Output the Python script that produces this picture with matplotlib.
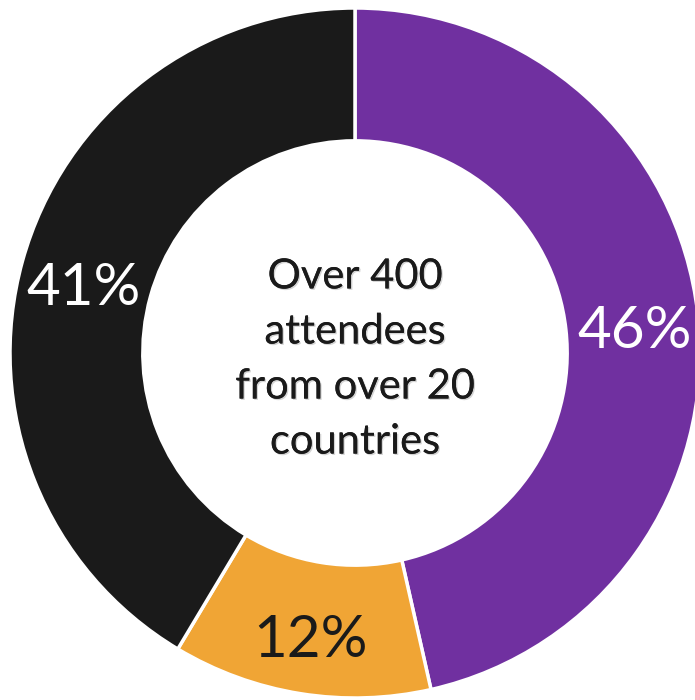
import numpy as np
import matplotlib.pyplot as plt
import matplotlib.patheffects as pe

shares = [46, 12, 41]
labels = ["46%", "12%", "41%"]
colors = ["#7030A0", "#F0A535", "#1A1A1A"]
label_colors = ["white", "#1A1A1A", "white"]
center_text = "Over 400\nattendees\nfrom over 20\ncountries"

plt.rcParams['font.family'] = ['Lato', 'DejaVu Sans']

fig = plt.figure(figsize=(6.95, 7.0), dpi=100)
ax = fig.add_axes([0, 0, 1, 1])

R = 345
wedges, _ = ax.pie(shares, radius=R, startangle=90, counterclock=False,
                   colors=colors,
                   wedgeprops=dict(width=R * 0.385, edgecolor="white", linewidth=2.5))

total = sum(shares)
angle = 90.0
for val, lab, lc in zip(shares, labels, label_colors):
    span = 360.0 * val / total
    mid = np.deg2rad(angle - span / 2)
    angle -= span
    r = R * 0.815
    ax.text(r * np.cos(mid), r * np.sin(mid) - 10, lab, ha="center", va="center",
            fontsize=42, color=lc)

ax.text(0, -6, center_text, ha="center", va="center", fontsize=30,
        color="#1A1A1A", linespacing=1.55,
        path_effects=[pe.withSimplePatchShadow(offset=(1, -1), shadow_rgbFace="#aaaaaa", alpha=0.5),
                      pe.Normal()])

ax.set_xlim(-355, 340)
ax.set_ylim(-347, 353)
ax.set_aspect("equal")
ax.axis("off")

fig.savefig("out.png", dpi=100)
